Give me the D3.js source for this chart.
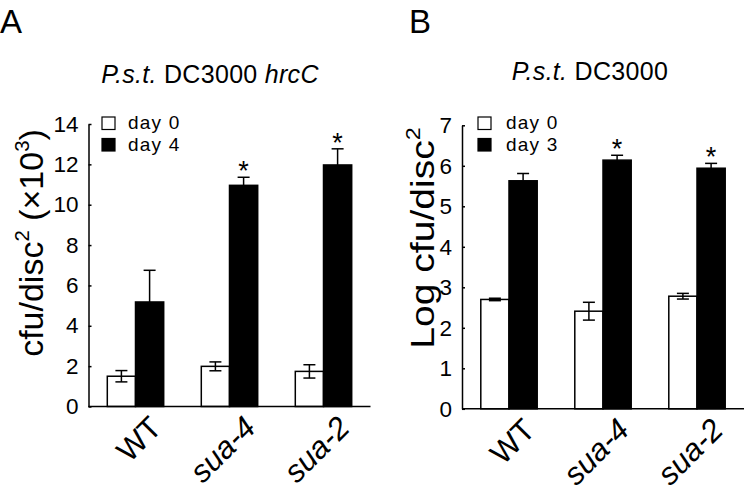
<!DOCTYPE html>
<html><head><meta charset="utf-8">
<script src="https://cdn.jsdelivr.net/npm/d3@7"></script>
<style>
html,body{margin:0;padding:0;background:#fff;}
svg{display:block;font-family:"Liberation Sans",Arial,sans-serif;}
text{white-space:pre;}
</style></head>
<body>
<svg id="c" width="746" height="503"></svg>
<script>
const categories = ["WT", "sua-4", "sua-2"];
const italicCats = [false, true, true];

// Panel A: P.s.t. DC3000 hrcC, cfu/disc^2 (x10^3)
const aDay0 = [1.50, 1.99, 1.74];
const aDay0Err = [0.28, 0.22, 0.33];
const aDay4 = [5.18, 10.96, 11.97];
const aDay4Err = [1.57, 0.40, 0.80];
const aSignificant = [false, true, true];
const aTicks = [0, 2, 4, 6, 8, 10, 12, 14];

// Panel B: P.s.t. DC3000, Log cfu/disc^2
const bDay0 = [2.70, 2.41, 2.78];
const bDay0Err = [0.03, 0.22, 0.07];
const bDay3 = [5.63, 6.14, 5.94];
const bDay3Err = [0.18, 0.12, 0.12];
const bSignificant = [false, true, true];
const bTicks = [0, 1, 2, 3, 4, 5, 6, 7];

const svg = d3.select("#c");

function panel(o) {
  const g = svg.append("g");
  const x = d3.scaleBand().domain(categories).range([o.x0, o.x0 + 282])
    .paddingInner(0.4).paddingOuter(0.2);
  const sub = d3.scaleBand().domain(["d0", "d1"]).range([0, x.bandwidth()]);
  const y = d3.scaleLinear().domain([0, o.max]).range([o.y0, o.y1]);

  g.append("text").attr("x", o.letterX).attr("y", 33).attr("font-size", 33)
    .text(o.letter);
  const t = g.append("text").attr("x", o.titleX).attr("y", o.titleY)
    .attr("font-size", 25).attr("text-anchor", "middle").attr("letter-spacing", 0.3);
  o.title.forEach(p => t.append("tspan").attr("font-style", p[1] ? "italic" : "normal").text(p[0]));

  const rows = categories.map((c, i) => ({c, i, v0: o.d0[i], e0: o.e0[i], v1: o.d1[i], e1: o.e1[i], s: o.sig[i]}));
  const bg = g.append("g");
  rows.forEach(r => {
    const cx0 = x(r.c) + sub("d0") + sub.bandwidth() / 2;
    const cx1 = x(r.c) + sub("d1") + sub.bandwidth() / 2;
    bg.append("rect").attr("x", x(r.c) + sub("d0")).attr("y", y(r.v0))
      .attr("width", sub.bandwidth()).attr("height", y(0) - y(r.v0))
      .attr("fill", "#fff").attr("stroke", "#000").attr("stroke-width", 1.5);
    bg.append("rect").attr("x", x(r.c) + sub("d1")).attr("y", y(r.v1))
      .attr("width", sub.bandwidth()).attr("height", y(0) - y(r.v1))
      .attr("fill", "#000").attr("stroke", "#000").attr("stroke-width", 1.5);
    const eg = bg.append("g").attr("stroke", "#000").attr("stroke-width", 1.5);
    eg.append("line").attr("x1", cx0).attr("x2", cx0).attr("y1", y(r.v0 - r.e0)).attr("y2", y(r.v0 + r.e0));
    eg.append("line").attr("x1", cx0 - 6).attr("x2", cx0 + 6).attr("y1", y(r.v0 + r.e0)).attr("y2", y(r.v0 + r.e0));
    eg.append("line").attr("x1", cx0 - 6).attr("x2", cx0 + 6).attr("y1", y(r.v0 - r.e0)).attr("y2", y(r.v0 - r.e0));
    eg.append("line").attr("x1", cx1).attr("x2", cx1).attr("y1", y(r.v1)).attr("y2", y(r.v1 + r.e1));
    eg.append("line").attr("x1", cx1 - 6).attr("x2", cx1 + 6).attr("y1", y(r.v1 + r.e1)).attr("y2", y(r.v1 + r.e1));
    if (r.s) {
      bg.append("text").attr("x", cx1).attr("y", y(r.v1 + r.e1) + 3)
        .attr("text-anchor", "middle").attr("font-size", 27).text("*");
    }
  });

  const ax = g.append("g").attr("transform", `translate(${o.x0},0)`)
    .call(d3.axisLeft(y).tickValues(o.ticks).tickFormat(d3.format("d"))
      .tickSizeInner(-3).tickSizeOuter(0).tickPadding(10));
  ax.selectAll("path,line").attr("stroke", "#000").attr("stroke-width", 1.5);
  ax.selectAll("text").attr("font-size", 22.5).attr("font-family", "Liberation Sans, Arial, sans-serif").attr("fill", "#000");
  g.append("line").attr("x1", o.x0).attr("x2", o.x0 + 282).attr("y1", y(0)).attr("y2", y(0))
    .attr("stroke", "#000").attr("stroke-width", 1.5);

  categories.forEach((c, i) => {
    const ex = x(c) + x.bandwidth() / 2 + 28;
    g.append("text").attr("transform", `translate(${ex},${y(0) + 23}) rotate(-45)`)
      .attr("text-anchor", "end").attr("font-size", 31)
      .attr("font-style", italicCats[i] ? "italic" : "normal").text(c);
  });

  const yl = g.append("text")
    .attr("transform", `translate(${o.ylX},${o.ylY}) rotate(-90) scale(${o.ylStretch},1)`)
    .attr("text-anchor", "middle").attr("font-size", o.ylSize);
  o.ylabel.forEach(p => {
    const ts = yl.append("tspan").text(p[0]);
    if (p[1] === "sup") ts.attr("font-size", o.ylSize * 0.6).attr("dy", -o.ylSize * 0.42);
    if (p[1] === "base") ts.attr("dy", o.ylSize * 0.42);
  });

  const lg = g.append("g").attr("transform", `translate(${o.legX},117)`);
  [["day 0", "#fff"], [o.day1Label, "#000"]].forEach((d, i) => {
    lg.append("rect").attr("x", 0).attr("y", i * 21.5).attr("width", 13).attr("height", 12.5)
      .attr("fill", d[1]).attr("stroke", "#000").attr("stroke-width", 1.2);
    lg.append("text").attr("x", o.legTextDx).attr("y", i * 21.5 + 12).attr("font-size", 19)
      .attr("letter-spacing", 1.2).text(d[0]);
  });
}

panel({
  letter: "A", letterX: 0, titleX: 210, titleY: 83,
  title: [["P.s.t.", true], [" DC3000 ", false], ["hrcC", true]],
  x0: 88.5, y0: 406.5, y1: 124, max: 14, ticks: aTicks,
  d0: aDay0, e0: aDay0Err, d1: aDay4, e1: aDay4Err, sig: aSignificant,
  ylX: 43, ylY: 243, ylSize: 34, ylStretch: 1,
  ylabel: [["cfu/disc"], ["2", "sup"], [" (×10", "base"], ["3", "sup"], [")", "base"]],
  legX: 102, legTextDx: 26, day1Label: "day 4"
});
panel({
  letter: "B", letterX: 409, titleX: 590, titleY: 80,
  title: [["P.s.t.", true], [" DC3000", false]],
  x0: 462, y0: 408.8, y1: 125.3, max: 7, ticks: bTicks,
  d0: bDay0, e0: bDay0Err, d1: bDay3, e1: bDay3Err, sig: bSignificant,
  ylX: 434, ylY: 238, ylSize: 34, ylStretch: 1.15,
  ylabel: [["Log cfu/disc"], ["2", "sup"]],
  legX: 478, legTextDx: 28, day1Label: "day 3"
});
</script>
</body></html>
